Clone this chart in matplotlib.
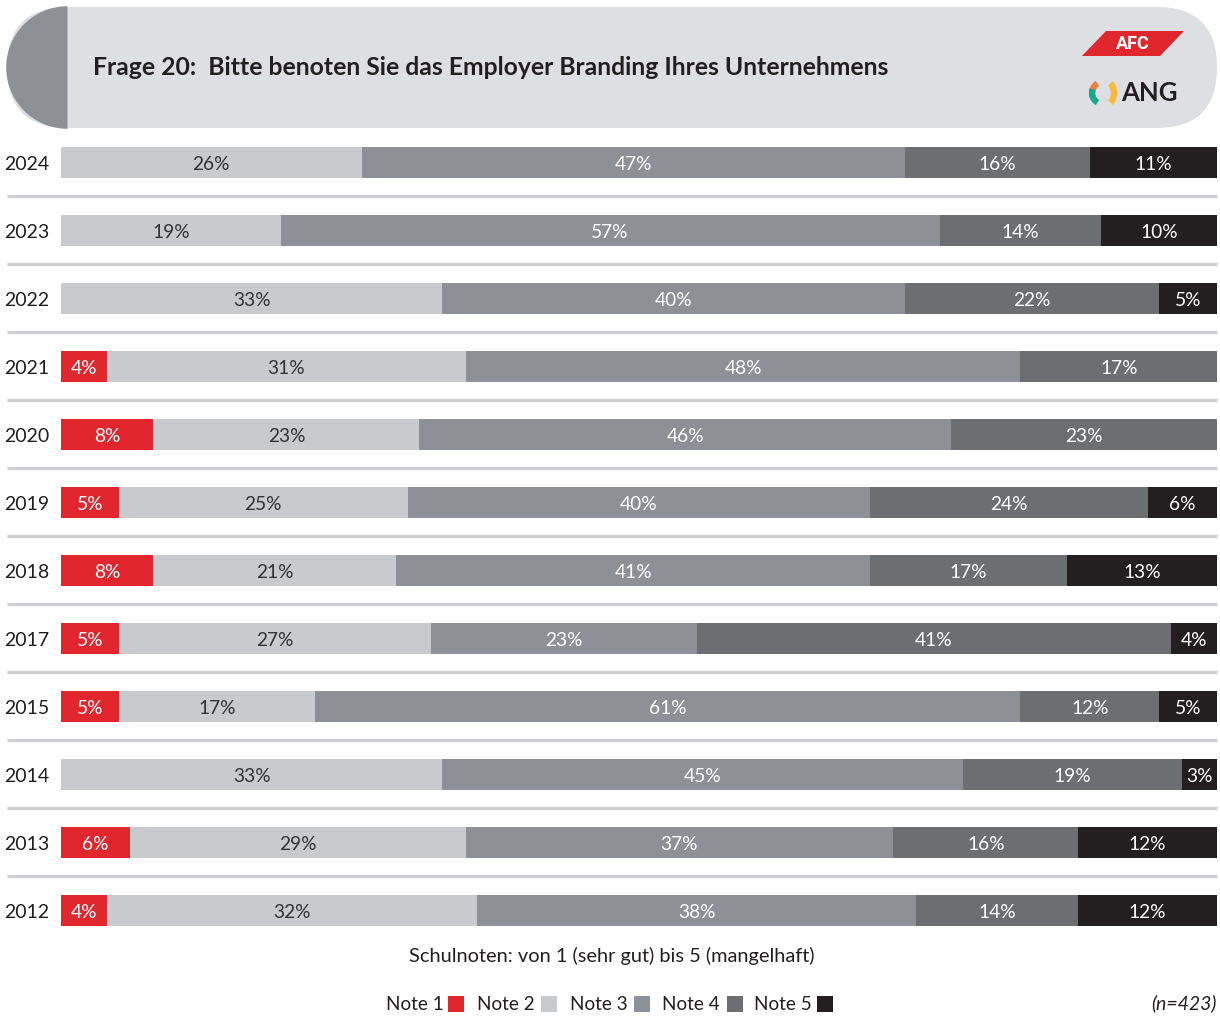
import matplotlib
matplotlib.use("Agg")
import matplotlib.pyplot as plt
from matplotlib.patches import FancyBboxPatch, Wedge, Polygon, Rectangle, Arc
import numpy as np

plt.rcParams['font.family'] = ['Lato', 'DejaVu Sans']

# ---- data ----
years = ["2024", "2023", "2022", "2021", "2020", "2019", "2018", "2017", "2015", "2014", "2013", "2012"]
note1 = [0, 0, 0, 4, 8, 5, 8, 5, 5, 0, 6, 4]
note2 = [26, 19, 33, 31, 23, 25, 21, 27, 17, 33, 29, 32]
note3 = [47, 57, 40, 48, 46, 40, 41, 23, 61, 45, 37, 38]
note4 = [16, 14, 22, 17, 23, 24, 17, 41, 12, 19, 16, 14]
note5 = [11, 10, 5, 0, 0, 6, 13, 4, 5, 3, 12, 12]
series_names = ["Note 1", "Note 2", "Note 3", "Note 4", "Note 5"]
colors = ["#e1262d", "#c8cacd", "#8e9097", "#6d6e72", "#231f20"]
text_colors = ["white", "#333333", "white", "white", "white"]
title = "Frage 20:  Bitte benoten Sie das Employer Branding Ihres Unternehmens"
subtitle = "Schulnoten: von 1 (sehr gut) bis 5 (mangelhaft)"
sample = "(n=423)"

W, H = 1220, 1018
fig = plt.figure(figsize=(W / 100, H / 100), dpi=100)

# background axes in pixel coordinates
bg = fig.add_axes([0, 0, 1, 1])
bg.set_xlim(0, W)
bg.set_ylim(H, 0)
bg.axis("off")

# header banner
top, bot = 7, 128
r = (bot - top) / 2
banner = FancyBboxPatch((7, top), 1210, bot - top,
                        boxstyle=f"round,pad=0,rounding_size={r}",
                        fc="#dedfe2", ec="none")
bg.add_patch(banner)
bg.add_patch(Wedge((7 + r, (top + bot) / 2), r + 0.8, 90, 270, fc="#8e9098", ec="none"))
bg.text(93, 67, title, fontsize=17.8, fontweight="bold", color="#231f20",
        ha="left", va="center")

# AFC badge
bg.add_patch(Polygon([[1082, 56], [1106, 31], [1184, 31], [1160, 56]],
                     closed=True, fc="#e1262d", ec="none"))
bg.text(1133, 44, "AFC", fontsize=13, fontweight="bold", color="white",
        ha="center", va="center", family=["Roboto", "DejaVu Sans"],
        fontstretch="condensed")
# ANG mark
cx, cy = 1103, 93
bg.add_patch(Arc((cx, cy), 22, 22, theta1=-200, theta2=-120, lw=4.5, color="#f07f3c"))
bg.add_patch(Arc((cx, cy), 22, 22, theta1=120, theta2=200, lw=4.5, color="#1aa88a"))
bg.add_patch(Arc((cx + 4, cy), 14, 22, theta1=-70, theta2=70, lw=4.5, color="#f6b93b"))
bg.text(1121, 93, "ANG", fontsize=18.5, fontweight="bold", color="#231f20",
        ha="left", va="center")

# separators between rows
for i in range(len(years) - 1):
    y = 196 + 68 * i
    bg.plot([7, 1217], [y, y], color="#cfd0d3", lw=2.4, solid_capstyle="butt")

# ---- bar chart ----
ax = fig.add_axes([61 / W, 1 - 944 / H, 1156 / W, 816 / H])
ax.set_xlim(0, 100)
ax.set_ylim(len(years) - 0.5, -0.5)
ax.axis("off")

ypos = np.arange(len(years))
data = [note1, note2, note3, note4, note5]
dy = 0.03  # nudge labels onto the optical centre of the bar
left = np.zeros(len(years))
for vals, c, tc in zip(data, colors, text_colors):
    vals = np.array(vals, dtype=float)
    ax.barh(ypos, vals, left=left, height=31 / 68, color=c, edgecolor="none")
    for y, v, l in zip(ypos, vals, left):
        if v > 0:
            ax.text(l + v / 2, y + dy, f"{int(v)}%", ha="center", va="center",
                    fontsize=13.8, color=tc)
    left += vals

for y, yr in zip(ypos, years):
    ax.text(-1.0, y + dy, yr, ha="right", va="center", fontsize=14, color="#231f20")

# footer
bg.text(612, 956, subtitle, ha="center", va="center", fontsize=14.4, color="#231f20")
legend_x = [[386, 448], [477, 541], [570, 634], [662, 727], [754, 817]]
for (tx, sx), name, c in zip(legend_x, series_names, colors):
    bg.text(tx, 1005, name, ha="left", va="center", fontsize=13.6, color="#231f20")
    bg.add_patch(Rectangle((sx, 996), 16, 16, fc=c, ec="none"))
bg.text(1217, 1003, sample, ha="right", va="center", fontsize=14,
        style="italic", color="#231f20")

fig.savefig("out.png", dpi=100)
